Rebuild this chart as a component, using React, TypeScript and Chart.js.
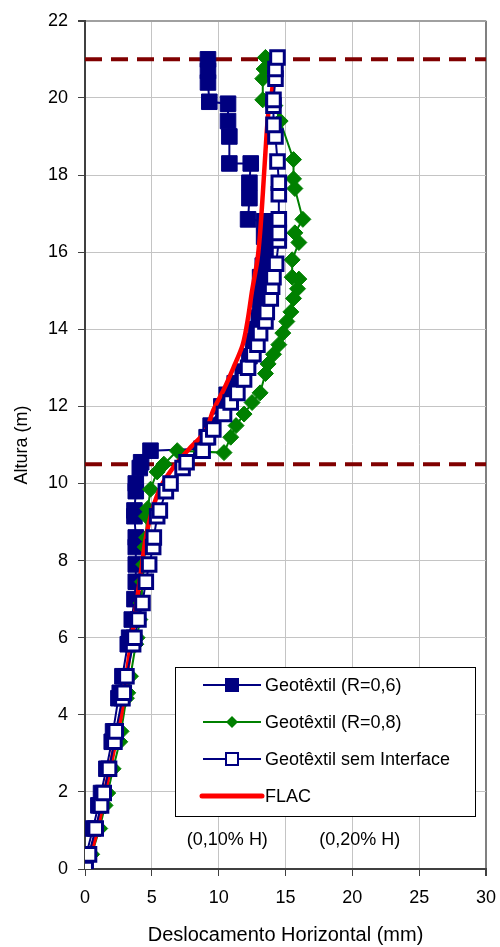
import React, { useEffect, useRef } from "react";
import { Chart, registerables } from "chart.js";

Chart.register(...registerables);

const FONT = "'Liberation Sans', Arial, Helvetica, sans-serif";

// Geotêxtil (R=0,6) — filled squares
const r06X = [0.0, 0.1, 0.6, 1.0, 1.2, 1.6, 2.0, 2.1, 2.5, 2.6, 2.8, 3.2, 3.3, 3.5, 3.7, 3.8, 3.8, 3.8, 3.8, 3.7, 3.7, 3.8, 3.8, 4.1, 4.2, 4.9, 8.7, 9.1, 9.4, 10.2, 10.6, 11.2, 11.8, 12.3, 12.6, 12.8, 13.0, 13.1, 13.2, 13.1, 13.3, 13.5, 13.4, 13.4, 12.2, 12.3, 12.3, 12.4, 10.8, 10.8, 10.7, 10.7, 9.3, 9.2, 9.2, 9.2];
const r06Y = [0, 0.38, 1.05, 1.65, 1.97, 2.6, 3.3, 3.57, 4.43, 4.57, 5.0, 5.83, 6.0, 6.47, 7.0, 7.45, 7.9, 8.35, 8.6, 9.15, 9.3, 9.8, 10.0, 10.4, 10.55, 10.85, 10.9, 11.2, 11.5, 12.0, 12.3, 12.6, 12.9, 13.3, 13.7, 14.0, 14.3, 14.7, 15.0, 15.35, 15.65, 16.0, 16.4, 16.8, 16.85, 17.4, 17.8, 18.3, 18.3, 19.0, 19.4, 19.85, 19.9, 20.4, 20.7, 21.0];

// Geotêxtil (R=0,8) — green diamonds
const r08X = [0.0, 0.5, 1.1, 1.5, 1.7, 2.1, 2.6, 2.7, 3.1, 3.2, 3.4, 3.8, 3.9, 4.1, 4.2, 4.3, 4.4, 4.5, 4.6, 4.6, 4.7, 4.9, 5.4, 5.9, 6.9, 10.4, 10.9, 11.3, 11.9, 12.5, 13.1, 13.5, 13.7, 14.1, 14.5, 14.8, 15.1, 15.4, 15.6, 15.9, 16.0, 15.5, 15.5, 16.0, 15.7, 16.3, 15.7, 15.6, 15.6, 14.6, 14.2, 13.3, 13.3, 13.4, 13.5];
const r08Y = [0, 0.38, 1.05, 1.65, 1.97, 2.6, 3.3, 3.57, 4.43, 4.57, 5.0, 5.83, 6.0, 6.47, 6.9, 7.45, 7.9, 8.35, 8.6, 9.15, 9.35, 9.85, 10.3, 10.5, 10.85, 10.8, 11.2, 11.5, 11.8, 12.1, 12.35, 12.85, 13.1, 13.35, 13.6, 13.9, 14.2, 14.45, 14.8, 15.05, 15.3, 15.35, 15.8, 16.25, 16.5, 16.85, 17.65, 17.9, 18.4, 19.4, 19.8, 19.95, 20.5, 20.75, 21.05];

// Geotêxtil sem Interface — open squares
const semX = [0.05, 0.3, 0.8, 1.2, 1.4, 1.8, 2.2, 2.3, 2.8, 2.9, 3.1, 3.6, 3.7, 4.0, 4.3, 4.55, 4.8, 5.1, 5.15, 5.4, 5.6, 6.05, 6.4, 7.3, 7.6, 8.8, 9.2, 9.6, 10.4, 10.9, 11.4, 11.9, 12.2, 12.6, 12.9, 13.1, 13.5, 13.6, 13.9, 14.0, 14.1, 14.3, 14.5, 14.5, 14.5, 14.5, 14.5, 14.4, 14.25, 14.1, 14.1, 14.1, 14.25, 14.25, 14.4];
const semY = [0, 0.38, 1.05, 1.65, 1.97, 2.6, 3.3, 3.57, 4.43, 4.57, 5.0, 5.83, 6.0, 6.47, 6.9, 7.45, 7.9, 8.35, 8.6, 9.15, 9.3, 9.8, 10.0, 10.4, 10.55, 10.85, 11.2, 11.4, 11.8, 12.1, 12.35, 12.7, 13.0, 13.35, 13.6, 13.9, 14.2, 14.45, 14.8, 15.1, 15.35, 15.7, 16.3, 16.5, 16.85, 17.5, 17.8, 18.35, 19.0, 19.3, 19.8, 19.95, 20.5, 20.75, 21.05];

// FLAC — red line
const flacX = [0.2, 0.5, 0.9, 1.2, 1.5, 1.8, 2.1, 2.4, 2.7, 2.9, 3.1, 3.3, 3.5, 3.7, 3.9, 4.1, 4.3, 4.5, 4.8, 5.2, 5.8, 6.8, 7.8, 9.0, 9.6, 10.4, 11.1, 11.8, 12.2, 12.5, 12.9, 13.1, 13.3, 13.5, 13.7, 14.0, 14.2];
const flacY = [0, 0.5, 1.0, 1.5, 2.0, 2.5, 3.0, 3.5, 4.0, 4.5, 5.0, 5.5, 6.0, 6.5, 7.0, 7.5, 8.0, 8.5, 9.0, 9.5, 10.0, 10.5, 10.9, 11.35, 11.9, 12.45, 13.0, 13.6, 14.3, 15.0, 15.8, 16.5, 17.5, 18.6, 19.55, 20.2, 21.0];

// Reference heights (dashed lines)
const refHeights = [21, 10.5];
const xRange = [0, 30];

const seriesNames = ["Geotêxtil (R=0,6)", "Geotêxtil (R=0,8)", "Geotêxtil sem Interface", "FLAC"];
const noteLabels = ["(0,10% H)", "(0,20% H)"];
const noteX = [10.65, 20.55];
const noteY = [0.75, 0.75];

const xTitle = "Deslocamento Horizontal (mm)";
const yTitle = "Altura (m)";

const zip = (xs: number[], ys: number[]) => xs.map((x, i) => ({ x, y: ys[i] }));

const NAVY = "#000080";
const GREEN = "#008000";
const RED = "#FF0000";
const DARKRED = "#800000";

const overlayPlugin = {
  id: "overlay",
  afterDatasetsDraw(chart: any) {
    const ctx: CanvasRenderingContext2D = chart.ctx;
    const xs = chart.scales.x;
    const ys = chart.scales.y;
    ctx.save();
    ctx.fillStyle = "#000";
    ctx.font = `18px ${FONT}`;
    ctx.textAlign = "center";
    ctx.textBaseline = "middle";
    noteLabels.forEach((t, i) => {
      ctx.fillText(t, xs.getPixelForValue(noteX[i]), ys.getPixelForValue(noteY[i]));
    });

    // legend box
    const bx = 175, by = 667, bw = 300, bh = 149;
    ctx.fillStyle = "#fff";
    ctx.fillRect(bx, by, bw, bh);
    ctx.strokeStyle = "#000";
    ctx.lineWidth = 1;
    ctx.strokeRect(bx + 0.5, by + 0.5, bw, bh);

    const lx0 = 203, lx1 = 261, mx = 232, tx = 265;
    seriesNames.forEach((name, i) => {
      const y = by + 18 + i * 37;
      ctx.lineCap = "butt";
      if (i === 3) {
        ctx.strokeStyle = RED;
        ctx.lineWidth = 5;
        ctx.lineCap = "round";
        ctx.beginPath();
        ctx.moveTo(lx0 - 1, y);
        ctx.lineTo(lx1 + 1, y);
        ctx.stroke();
      } else {
        const col = i === 1 ? GREEN : NAVY;
        ctx.strokeStyle = col;
        ctx.lineWidth = 2;
        ctx.beginPath();
        ctx.moveTo(lx0, y);
        ctx.lineTo(lx1, y);
        ctx.stroke();
        if (i === 0) {
          ctx.fillStyle = NAVY;
          ctx.fillRect(mx - 7, y - 7, 14, 14);
        } else if (i === 1) {
          ctx.fillStyle = GREEN;
          ctx.beginPath();
          ctx.moveTo(mx, y - 6);
          ctx.lineTo(mx + 6, y);
          ctx.lineTo(mx, y + 6);
          ctx.lineTo(mx - 6, y);
          ctx.closePath();
          ctx.fill();
        } else {
          ctx.fillStyle = "#fff";
          ctx.fillRect(mx - 6, y - 6, 12, 12);
          ctx.strokeStyle = NAVY;
          ctx.lineWidth = 2;
          ctx.strokeRect(mx - 6, y - 6, 12, 12);
        }
      }
      ctx.fillStyle = "#000";
      ctx.font = `18px ${FONT}`;
      ctx.textAlign = "left";
      ctx.textBaseline = "middle";
      ctx.fillText(name, tx, y + 1);
    });
    ctx.restore();
  },
};

export default function App() {
  const ref = useRef<HTMLCanvasElement | null>(null);

  useEffect(() => {
    if (!ref.current) return;
    const dashed = refHeights.map((h) => ({
      label: "ref" + h,
      data: xRange.map((x) => ({ x, y: h })),
      borderColor: DARKRED,
      borderWidth: 4,
      borderDash: [17, 9],
      pointRadius: 0,
      order: 5,
    }));
    const chart = new Chart(ref.current, {
      type: "line",
      data: {
        datasets: [
          {
            label: seriesNames[2],
            data: zip(semX, semY),
            borderColor: NAVY,
            borderWidth: 2,
            pointStyle: "rect",
            pointRadius: 9.6,
            pointBorderWidth: 3,
            pointBackgroundColor: "#fff",
            pointBorderColor: NAVY,
            order: 0,
          },
          {
            label: seriesNames[3],
            data: zip(flacX, flacY),
            borderColor: RED,
            borderWidth: 4.5,
            pointRadius: 0,
            tension: 0.3,
            order: 1,
          },
          {
            label: seriesNames[1],
            data: zip(r08X, r08Y),
            borderColor: GREEN,
            borderWidth: 2,
            pointStyle: "rectRot",
            pointRadius: 8,
            pointBorderWidth: 1,
            pointBackgroundColor: GREEN,
            pointBorderColor: GREEN,
            order: 2,
          },
          {
            label: seriesNames[0],
            data: zip(r06X, r06Y),
            borderColor: NAVY,
            borderWidth: 2,
            pointStyle: "rect",
            pointRadius: 11,
            pointBorderWidth: 1,
            pointBackgroundColor: NAVY,
            pointBorderColor: NAVY,
            order: 3,
          },
          ...dashed,
        ] as any,
      },
      options: {
        responsive: false,
        animation: false,
        parsing: false as any,
        layout: { padding: { top: 19, right: 14, left: 0, bottom: 0 } },
        plugins: {
          legend: { display: false },
          tooltip: { enabled: false },
        },
        scales: {
          x: {
            type: "linear",
            min: 0,
            max: 30,
            ticks: {
              stepSize: 5,
              color: "#000",
              font: { family: FONT, size: 18 },
              padding: 11,
              maxRotation: 0,
            },
            grid: {
              color: (c: any) => (c.tick && c.tick.value === 30 ? "#808080" : "#c4c4c4"),
              lineWidth: (c: any) => (c.tick && c.tick.value === 30 ? 2 : 1),
              tickLength: 7,
              tickColor: "#404040",
            },
            border: { color: "#404040", width: 2 },
            title: {
              display: true,
              text: xTitle,
              color: "#000",
              font: { family: FONT, size: 20 },
              padding: { top: 0, bottom: 0 },
            },
            afterFit: (s: any) => {
              s.height = 78;
              s.paddingRight = 8;
              s.paddingLeft = 5;
            },
          },
          y: {
            type: "linear",
            min: 0,
            max: 22,
            ticks: {
              stepSize: 2,
              color: "#000",
              font: { family: FONT, size: 18 },
              padding: 10,
            },
            grid: {
              color: (c: any) => (c.tick && c.tick.value === 22 ? "#a0a0a0" : "#c4c4c4"),
              lineWidth: (c: any) => (c.tick && c.tick.value === 22 ? 2 : 1),
              tickLength: 7,
              tickColor: "#404040",
            },
            border: { color: "#404040", width: 2 },
            title: {
              display: true,
              text: yTitle,
              color: "#000",
              font: { family: FONT, size: 18 },
              padding: { top: 11, bottom: 0 },
            },
            afterFit: (s: any) => {
              s.width = 85;
            },
          },
        },
      } as any,
      plugins: [overlayPlugin],
    });
    return () => chart.destroy();
  }, []);

  return (
    <div style={{ position: "fixed", left: 0, top: 0, width: 500, height: 947, background: "#fff" }}>
      <canvas ref={ref} width={500} height={947} style={{ display: "block" }} />
    </div>
  );
}
